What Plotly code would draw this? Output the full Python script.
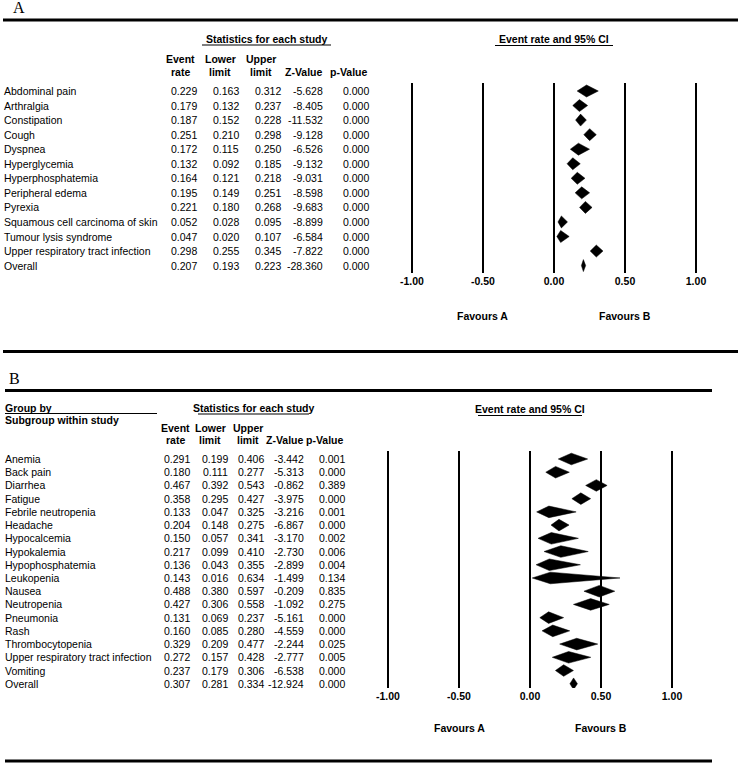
import plotly.graph_objects as go

W, H = 738, 764

# ---------------- Panel A data ----------------
a_labels = ["Abdominal pain", "Arthralgia", "Constipation", "Cough", "Dyspnea",
            "Hyperglycemia", "Hyperphosphatemia", "Peripheral edema", "Pyrexia",
            "Squamous cell carcinoma of skin", "Tumour lysis syndrome",
            "Upper respiratory tract infection", "Overall"]
a_rate = [0.229, 0.179, 0.187, 0.251, 0.172, 0.132, 0.164, 0.195, 0.221, 0.052, 0.047, 0.298, 0.207]
a_lower = [0.163, 0.132, 0.152, 0.210, 0.115, 0.092, 0.121, 0.149, 0.180, 0.028, 0.020, 0.255, 0.193]
a_upper = [0.312, 0.237, 0.228, 0.298, 0.250, 0.185, 0.218, 0.251, 0.268, 0.095, 0.107, 0.345, 0.223]
a_z = [-5.628, -8.405, -11.532, -9.128, -6.526, -9.132, -9.031, -8.598, -9.683, -8.899, -6.584, -7.822, -28.360]
a_p = [0.000, 0.000, 0.000, 0.000, 0.000, 0.000, 0.000, 0.000, 0.000, 0.000, 0.000, 0.000, 0.000]

# ---------------- Panel B data ----------------
b_labels = ["Anemia", "Back pain", "Diarrhea", "Fatigue", "Febrile neutropenia", "Headache",
            "Hypocalcemia", "Hypokalemia", "Hypophosphatemia", "Leukopenia", "Nausea",
            "Neutropenia", "Pneumonia", "Rash", "Thrombocytopenia",
            "Upper respiratory tract infection", "Vomiting", "Overall"]
b_rate = [0.291, 0.180, 0.467, 0.358, 0.133, 0.204, 0.150, 0.217, 0.136, 0.143, 0.488, 0.427, 0.131, 0.160, 0.329, 0.272, 0.237, 0.307]
b_lower = [0.199, 0.111, 0.392, 0.295, 0.047, 0.148, 0.057, 0.099, 0.043, 0.016, 0.380, 0.306, 0.069, 0.085, 0.209, 0.157, 0.179, 0.281]
b_upper = [0.406, 0.277, 0.543, 0.427, 0.325, 0.275, 0.341, 0.410, 0.355, 0.634, 0.597, 0.558, 0.237, 0.280, 0.477, 0.428, 0.306, 0.334]
b_z = [-3.442, -5.313, -0.862, -3.975, -3.216, -6.867, -3.170, -2.730, -2.899, -1.499, -0.209, -1.092, -5.161, -4.559, -2.244, -2.777, -6.538, -12.924]
b_p = [0.001, 0.000, 0.389, 0.000, 0.001, 0.000, 0.002, 0.006, 0.004, 0.134, 0.835, 0.275, 0.000, 0.000, 0.025, 0.005, 0.000, 0.000]

tick_vals = [-1.0, -0.5, 0.0, 0.5, 1.0]
tick_text = ["-1.00", "-0.50", "0.00", "0.50", "1.00"]

FONT = "Arial, Liberation Sans, sans-serif"
SERIF = "Liberation Serif, Times New Roman, serif"
FS = 10.5


def px(x):
    return x / W


def py(y):
    return 1 - y / H


def diamond_trace(rate, lower, upper, half_h, xa, ya):
    xs, ys = [], []
    for i in range(len(rate)):
        xs += [lower[i], rate[i], upper[i], rate[i], lower[i], None]
        ys += [i, i - half_h, i, i + half_h, i, None]
    return go.Scatter(x=xs, y=ys, mode="lines", fill="toself", fillcolor="black",
                      line=dict(color="black", width=0.5), xaxis=xa, yaxis=ya,
                      hoverinfo="skip", showlegend=False)


fig = go.Figure()

# geometry (pixels)
A = dict(zero=554, unit=142, row0=91, drow=14.55, top=83, bot=273)
B = dict(zero=530, unit=142, row0=459, drow=13.22, top=451, bot=688)

fig.add_trace(diamond_trace(a_rate, a_lower, a_upper, 6 / A["drow"], "x", "y"))
fig.add_trace(diamond_trace(b_rate, b_lower, b_upper, 5.8 / B["drow"], "x2", "y2"))

annotations = []
shapes = []


def add_text(text, x, y, xref="paper", yref="paper", anchor="left", bold=False, size=FS, family=FONT):
    annotations.append(dict(text=f"<b>{text}</b>" if bold else text, x=x, y=y, xref=xref, yref=yref,
                            xanchor=anchor, yanchor="middle", showarrow=False,
                            borderpad=0, borderwidth=0,
                            font=dict(family=family, size=size, color="black")))


def hline(x0, x1, y, width):
    shapes.append(dict(type="line", xref="paper", yref="paper", x0=px(x0), x1=px(x1),
                       y0=py(y), y1=py(y), line=dict(color="black", width=width)))


def table(labels, cols, label_x, col_right, yref):
    for i, lab in enumerate(labels):
        add_text(lab, px(label_x), i, yref=yref)
        for c, xr in zip(cols, col_right):
            add_text(f"{c[i]:.3f}", px(xr), i, yref=yref, anchor="right")


# ---------- Panel A ----------
add_text("A", px(18.5), py(7.5), anchor="center", size=16, family=SERIF)
hline(3, 738, 20, 3)
add_text("Statistics for each study", px(267), py(39), anchor="center", bold=True)
hline(202, 331, 45, 1.2)
for cx, l1, l2 in [(180, "Event", "rate"), (220, "Lower", "limit"), (261, "Upper", "limit")]:
    add_text(l1, px(cx), py(59), anchor="center", bold=True)
    add_text(l2, px(cx), py(72), anchor="center", bold=True)
add_text("Z-Value", px(304), py(72), anchor="center", bold=True)
add_text("p-Value", px(349), py(72), anchor="center", bold=True)
table(a_labels, [a_rate, a_lower, a_upper, a_z, a_p], 4, [197, 239, 281, 323, 369], "y")
add_text("Event rate and 95% CI", px(554), py(39), anchor="center", bold=True)
hline(495, 613, 45.5, 1.2)
add_text("Favours A", -0.5, py(316), xref="x", anchor="center", bold=True)
add_text("Favours B", 0.5, py(316), xref="x", anchor="center", bold=True)
hline(3, 738, 351.5, 3)

# ---------- Panel B ----------
add_text("B", px(14), py(378.5), anchor="center", size=16, family=SERIF)
hline(5, 712, 390.5, 3)
add_text("Group by", px(5), py(408), bold=True)
hline(5, 157, 413.5, 1.2)
add_text("Subgroup within study", px(5), py(420), bold=True)
add_text("Statistics for each study", px(253.5), py(408), anchor="center", bold=True)
hline(198, 309, 414, 1.2)
for cx, l1, l2 in [(175, "Event", "rate"), (210, "Lower", "limit"), (248, "Upper", "limit")]:
    add_text(l1, px(cx), py(428), anchor="center", bold=True)
    add_text(l2, px(cx), py(440), anchor="center", bold=True)
add_text("Z-Value", px(285), py(440), anchor="center", bold=True)
add_text("p-Value", px(325), py(440), anchor="center", bold=True)
table(b_labels, [b_rate, b_lower, b_upper, b_z, b_p], 5, [190, 228, 264, 304, 345], "y2")
add_text("Event rate and 95% CI", px(530), py(409), anchor="center", bold=True)
hline(478, 582, 415.5, 1.2)
add_text("Favours A", -0.5, py(728), xref="x2", anchor="center", bold=True)
add_text("Favours B", 0.5, py(728), xref="x2", anchor="center", bold=True)
hline(5, 712, 761, 3)


def xaxis_cfg(g, l, r, anchor):
    return dict(domain=[px(l), px(r)],
                range=[(l - g["zero"]) / g["unit"], (r - g["zero"]) / g["unit"]],
                tickvals=tick_vals, ticktext=[f"<b>{t}</b>" for t in tick_text],
                tickfont=dict(family=FONT, size=FS, color="black"),
                showgrid=True, gridcolor="black", gridwidth=2.2,
                zeroline=True, zerolinecolor="black", zerolinewidth=2.2,
                showline=False, ticks="", anchor=anchor, fixedrange=True)


def yaxis_cfg(g, anchor):
    return dict(domain=[py(g["bot"]), py(g["top"])],
                range=[(g["bot"] - g["row0"]) / g["drow"], (g["top"] - g["row0"]) / g["drow"]],
                showgrid=False, zeroline=False, showticklabels=False, showline=False,
                ticks="", anchor=anchor, fixedrange=True)


fig.update_layout(
    width=W, height=H,
    margin=dict(l=0, r=0, t=0, b=0),
    paper_bgcolor="white", plot_bgcolor="white",
    showlegend=False,
    xaxis=xaxis_cfg(A, 400, 720, "y"),
    yaxis=yaxis_cfg(A, "x"),
    xaxis2=xaxis_cfg(B, 375, 700, "y2"),
    yaxis2=yaxis_cfg(B, "x2"),
    annotations=annotations,
    shapes=shapes,
)

fig.write_html("out.html", config={"displayModeBar": False},
               post_script="document.body.style.margin='0';")
